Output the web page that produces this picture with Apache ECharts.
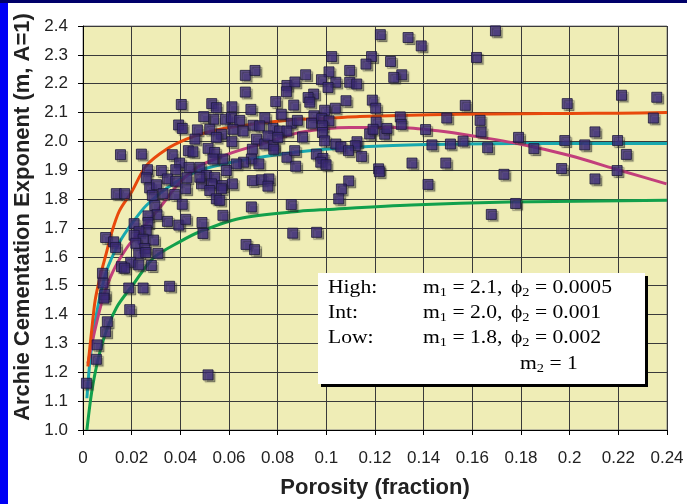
<!DOCTYPE html>
<html>
<head>
<meta charset="utf-8">
<title>Archie cementation exponent vs porosity</title>
<script src="https://cdn.jsdelivr.net/npm/echarts@6.0.0/dist/echarts.min.js"></script>
<style>
  html, body { margin: 0; padding: 0; }
  body { width: 687px; height: 504px; background: #0000f5; position: relative; overflow: hidden; }
  #topbar { position: absolute; left: 0; top: 0; width: 687px; height: 3px; background: #00006a; }
  #panel { position: absolute; left: 8px; top: 3px; width: 679px; height: 501px; background: #fff; }
  #chart { position: absolute; left: 0; top: 0; width: 687px; height: 504px; }
</style>
</head>
<body>
<div id="topbar"></div>
<div id="panel"></div>
<div id="chart"></div>
<script>
// measured samples: [porosity, m]
var samples = [
  [0.139, 2.331], [0.1695, 2.383], [0.1617, 2.291], [0.1571, 2.125], [0.199, 2.131], [0.2213, 2.16],
  [0.2358, 2.153], [0.1495, 2.081], [0.1632, 2.073], [0.2344, 2.081], [0.1408, 2.041], [0.1636, 2.033],
  [0.179, 2.014], [0.2104, 2.033], [0.1434, 1.988], [0.151, 1.991], [0.1562, 2.001], [0.1663, 1.978],
  [0.1853, 1.975], [0.198, 2.003], [0.2062, 1.988], [0.2197, 2.003], [0.2233, 1.955], [0.1352, 1.925],
  [0.1491, 1.925], [0.1967, 1.906], [0.2195, 1.899], [0.173, 1.886], [0.2104, 1.87], [0.1418, 1.851],
  [0.1778, 1.785], [0.1678, 1.747],
  [0.1222, 2.37], [0.1336, 2.36], [0.1022, 2.294], [0.1186, 2.294], [0.1163, 2.268], [0.1264, 2.277],
  [0.0915, 2.231], [0.1011, 2.241], [0.1096, 2.246], [0.131, 2.231], [0.1277, 2.222], [0.098, 2.214],
  [0.1039, 2.205], [0.1096, 2.205], [0.1125, 2.199], [0.1007, 2.187], [0.0948, 2.164], [0.0925, 2.152],
  [0.0932, 2.136], [0.1081, 2.141], [0.1189, 2.143], [0.1037, 2.115], [0.1203, 2.115], [0.0993, 2.108],
  [0.0949, 2.089], [0.1304, 2.085], [0.0981, 2.079], [0.1011, 2.071], [0.0939, 2.063], [0.1308, 2.059],
  [0.0984, 2.054], [0.1205, 2.067], [0.0984, 2.031], [0.0993, 2.002], [0.1178, 2.026], [0.1192, 2.042],
  [0.124, 2.025], [0.1249, 2.045], [0.1039, 1.991], [0.106, 1.981], [0.1126, 1.999], [0.1119, 1.985],
  [0.1091, 1.968], [0.1145, 1.948], [0.0959, 1.956], [0.0986, 1.941], [0.0977, 1.928], [0.0999, 1.919],
  [0.1215, 1.905], [0.1218, 1.895], [0.1092, 1.863], [0.1062, 1.835], [0.1051, 1.801],
  [0.0667, 2.229], [0.0707, 2.246], [0.0667, 2.171], [0.0838, 2.194], [0.0871, 2.206], [0.0836, 2.172],
  [0.0792, 2.138], [0.0866, 2.126], [0.0815, 2.094], [0.0856, 2.063], [0.0881, 2.073], [0.0529, 2.131],
  [0.0548, 2.117], [0.0612, 2.12], [0.069, 2.111], [0.0537, 2.077], [0.0586, 2.077], [0.061, 2.082],
  [0.0644, 2.073], [0.0699, 2.056], [0.0747, 2.082], [0.0726, 2.054], [0.0781, 2.045], [0.0808, 2.036],
  [0.0838, 2.036], [0.0521, 2.042], [0.0569, 2.025], [0.0548, 2.014], [0.0616, 2.042], [0.0658, 2.036],
  [0.0612, 1.999], [0.0713, 2.008], [0.0747, 1.991], [0.076, 2.019], [0.0784, 1.985], [0.0784, 1.973],
  [0.0801, 2.014], [0.0902, 2.015], [0.0514, 1.976], [0.0541, 1.962], [0.0575, 1.939], [0.0534, 1.939],
  [0.0696, 1.973], [0.0692, 1.939], [0.066, 1.928], [0.063, 1.922], [0.0723, 1.922], [0.0838, 1.945],
  [0.087, 1.968], [0.0874, 1.914], [0.048, 1.91], [0.0507, 1.882], [0.0541, 1.876], [0.0589, 1.899],
  [0.0487, 1.853], [0.0528, 1.853], [0.0573, 1.847], [0.0614, 1.853], [0.0521, 1.83], [0.0569, 1.836],
  [0.0696, 1.864], [0.0733, 1.867], [0.0764, 1.87], [0.076, 1.845], [0.0548, 1.801], [0.0562, 1.796],
  [0.0692, 1.773], [0.0856, 1.781], [0.0575, 1.744],
  [0.0404, 2.128], [0.0496, 2.086], [0.0393, 2.057], [0.0408, 2.045], [0.047, 2.04], [0.046, 2.008],
  [0.0154, 1.954], [0.024, 1.956], [0.0367, 1.954], [0.0433, 1.968], [0.0452, 1.964], [0.0397, 1.925],
  [0.0436, 1.91], [0.0265, 1.902], [0.0322, 1.899], [0.0381, 1.902], [0.026, 1.874], [0.0347, 1.87],
  [0.0381, 1.862], [0.0427, 1.874], [0.048, 1.876], [0.0274, 1.839], [0.0302, 1.85], [0.0329, 1.819],
  [0.0285, 1.813], [0.0377, 1.816], [0.0422, 1.836], [0.0137, 1.819], [0.0171, 1.819], [0.0295, 1.778],
  [0.0408, 1.782], [0.0304, 1.746], [0.0347, 1.723], [0.0394, 1.71], [0.0267, 1.742], [0.021, 1.715],
  [0.0267, 1.719], [0.0422, 1.73], [0.0489, 1.719], [0.0493, 1.681], [0.026, 1.692], [0.023, 1.687],
  [0.021, 1.675], [0.0247, 1.661], [0.029, 1.658], [0.0093, 1.667], [0.0126, 1.652], [0.0217, 1.647],
  [0.0134, 1.632], [0.0254, 1.629], [0.0229, 1.612], [0.0258, 1.615], [0.0308, 1.612], [0.0196, 1.581],
  [0.0229, 1.572], [0.0281, 1.57], [0.0158, 1.566], [0.0171, 1.561], [0.008, 1.543], [0.0082, 1.509],
  [0.0089, 1.469], [0.0086, 1.457], [0.0188, 1.492], [0.0247, 1.492], [0.0356, 1.498], [0.0192, 1.417],
  [0.01, 1.375], [0.0093, 1.34], [0.0058, 1.295], [0.0055, 1.245], [0.0014, 1.162], [0.0514, 1.191],
  [0.067, 1.643], [0.0705, 1.625], [0.0862, 1.682], [0.096, 1.685]
];

// model curves
var highCurve = [
  [0.002, 1.22], [0.0035, 1.34], [0.005, 1.45], [0.007, 1.53], [0.0095, 1.61], [0.012, 1.69],
  [0.015, 1.76], [0.0199, 1.824], [0.026, 1.916], [0.0343, 1.973], [0.0425, 2.008], [0.0507, 2.031],
  [0.06, 2.048], [0.07, 2.06], [0.08, 2.07], [0.089, 2.077], [0.1, 2.08], [0.1137, 2.086],
  [0.13, 2.09], [0.155, 2.094], [0.18, 2.096], [0.2, 2.097], [0.22, 2.098], [0.24, 2.1]
];
var intCurve = [
  [0.0016, 1.11], [0.003, 1.25], [0.0055, 1.4], [0.0096, 1.549], [0.0151, 1.652], [0.0206, 1.721],
  [0.026, 1.778], [0.0356, 1.845], [0.048, 1.9], [0.0685, 1.939], [0.093, 1.968], [0.1247, 1.985],
  [0.155, 1.991], [0.2, 1.993], [0.24, 1.993]
];
var lowCurve = [
  [0.0016, 1.0], [0.0041, 1.159], [0.0082, 1.308], [0.0137, 1.423], [0.0205, 1.503], [0.0288, 1.595],
  [0.0397, 1.652], [0.048, 1.687], [0.0644, 1.733], [0.089, 1.758], [0.1, 1.764], [0.135, 1.78],
  [0.175, 1.79], [0.24, 1.796]
];
var fitCurve = [
  [0.002, 1.23], [0.0048, 1.343], [0.0082, 1.457], [0.0123, 1.549], [0.0178, 1.629], [0.0233, 1.687],
  [0.0315, 1.77], [0.04, 1.86], [0.048, 1.915], [0.0617, 1.962], [0.0754, 1.996], [0.089, 2.031],
  [0.1096, 2.048], [0.13, 2.048], [0.1466, 2.036], [0.1603, 2.019], [0.1795, 1.991], [0.2, 1.951],
  [0.2205, 1.9], [0.2398, 1.853]
];

var xTicks = { min: 0, max: 0.24, step: 0.02 };
var yTicks = { min: 1.0, max: 2.4, step: 0.1 };

var chart = echarts.init(document.getElementById('chart'));

function curve(data, color) {
  return {
    type: 'line',
    data: data,
    smooth: 0.3,
    showSymbol: false,
    silent: true,
    lineStyle: { color: color, width: 3 },
    z: 2
  };
}

// legend box text is a little wider than a plain Times face, so stretch it sideways
var serif = '"Liberation Serif", "Times New Roman", serif';
function rowText(x, y, txt) {
  return {
    type: 'text', x: x, y: y, z: 102, scaleX: 1.2,
    style: {
      text: txt, fill: '#000', verticalAlign: 'middle',
      fontFamily: serif, fontSize: 18,
      rich: {
        a: { fontFamily: serif, fontSize: 18, lineHeight: 22 },
        b: { fontFamily: serif, fontSize: 12, lineHeight: 15, verticalAlign: 'bottom' }
      }
    }
  };
}

var sans = 'Liberation Sans, Arial, sans-serif';

chart.setOption({
  backgroundColor: 'transparent',
  animation: false,
  grid: {
    left: 83, top: 26, width: 584, height: 407,
    show: true, backgroundColor: '#efedb6', borderColor: '#888', borderWidth: 1
  },
  xAxis: {
    type: 'value',
    min: xTicks.min, max: xTicks.max, interval: xTicks.step,
    name: 'Porosity (fraction)',
    nameLocation: 'middle',
    nameGap: 47,
    nameTextStyle: { fontFamily: sans, fontWeight: 'bold', fontSize: 22, color: '#222' },
    axisLine: { show: true, lineStyle: { color: '#000', width: 1 } },
    axisTick: { show: true, length: 5, lineStyle: { color: '#000' } },
    axisLabel: {
      margin: 20, color: '#222', fontFamily: sans, fontSize: 17,
      formatter: function (v) { return String(parseFloat(v.toFixed(2))); }
    },
    splitLine: { show: true, lineStyle: { color: '#3a3a3a', width: 1 } }
  },
  yAxis: {
    type: 'value',
    min: yTicks.min, max: yTicks.max, interval: yTicks.step,
    name: 'Archie Cementation Exponent (m, A=1)',
    nameLocation: 'middle',
    nameGap: 40,
    nameTextStyle: {
      fontFamily: sans, fontWeight: 'bold', fontSize: 22, color: '#222',
      padding: [0, 0, 0, 22]
    },
    axisLine: { show: true, lineStyle: { color: '#000', width: 1 } },
    axisTick: { show: true, length: 5, lineStyle: { color: '#000' } },
    axisLabel: {
      margin: 15, color: '#222', fontFamily: sans, fontSize: 17,
      formatter: function (v) { return v.toFixed(1); }
    },
    splitLine: { show: true, lineStyle: { color: '#3a3a3a', width: 1 } }
  },
  series: [
    curve(lowCurve, '#12a04c'),
    curve(intCurve, '#18a8ae'),
    curve(fitCurve, '#c23f7b'),
    curve(highCurve, '#e8490c'),
    {
      type: 'scatter',
      data: samples,
      symbol: 'rect',
      symbolSize: 10,
      z: 5,
      itemStyle: {
        color: '#3d2b80',
        borderColor: '#1c1838',
        borderWidth: 1,
        shadowColor: 'rgba(40,40,40,0.55)',
        shadowBlur: 1,
        shadowOffsetX: 2,
        shadowOffsetY: 2
      }
    }
  ],
  graphic: [
    { type: 'rect', z: 100, shape: { x: 321, y: 276, width: 327, height: 111 }, style: { fill: '#000' } },
    { type: 'rect', z: 101, shape: { x: 318, y: 273, width: 327, height: 111 }, style: { fill: '#fff' } },
    rowText(328, 288, 'High:'),
    rowText(328, 313, 'Int:'),
    rowText(328, 338, 'Low:'),
    rowText(423, 288, '{a|m}{b|1}{a| = 2.1,}'),
    rowText(423, 313, '{a|m}{b|1}{a| = 2.0,}'),
    rowText(423, 338, '{a|m}{b|1}{a| = 1.8,}'),
    rowText(511, 288, '{a|ϕ}{b|2}{a| = 0.0005}'),
    rowText(511, 313, '{a|ϕ}{b|2}{a| = 0.001}'),
    rowText(511, 338, '{a|ϕ}{b|2}{a| = 0.002}'),
    rowText(520, 364, '{a|m}{b|2}{a| = 1}')
  ]
});
</script>
</body>
</html>
